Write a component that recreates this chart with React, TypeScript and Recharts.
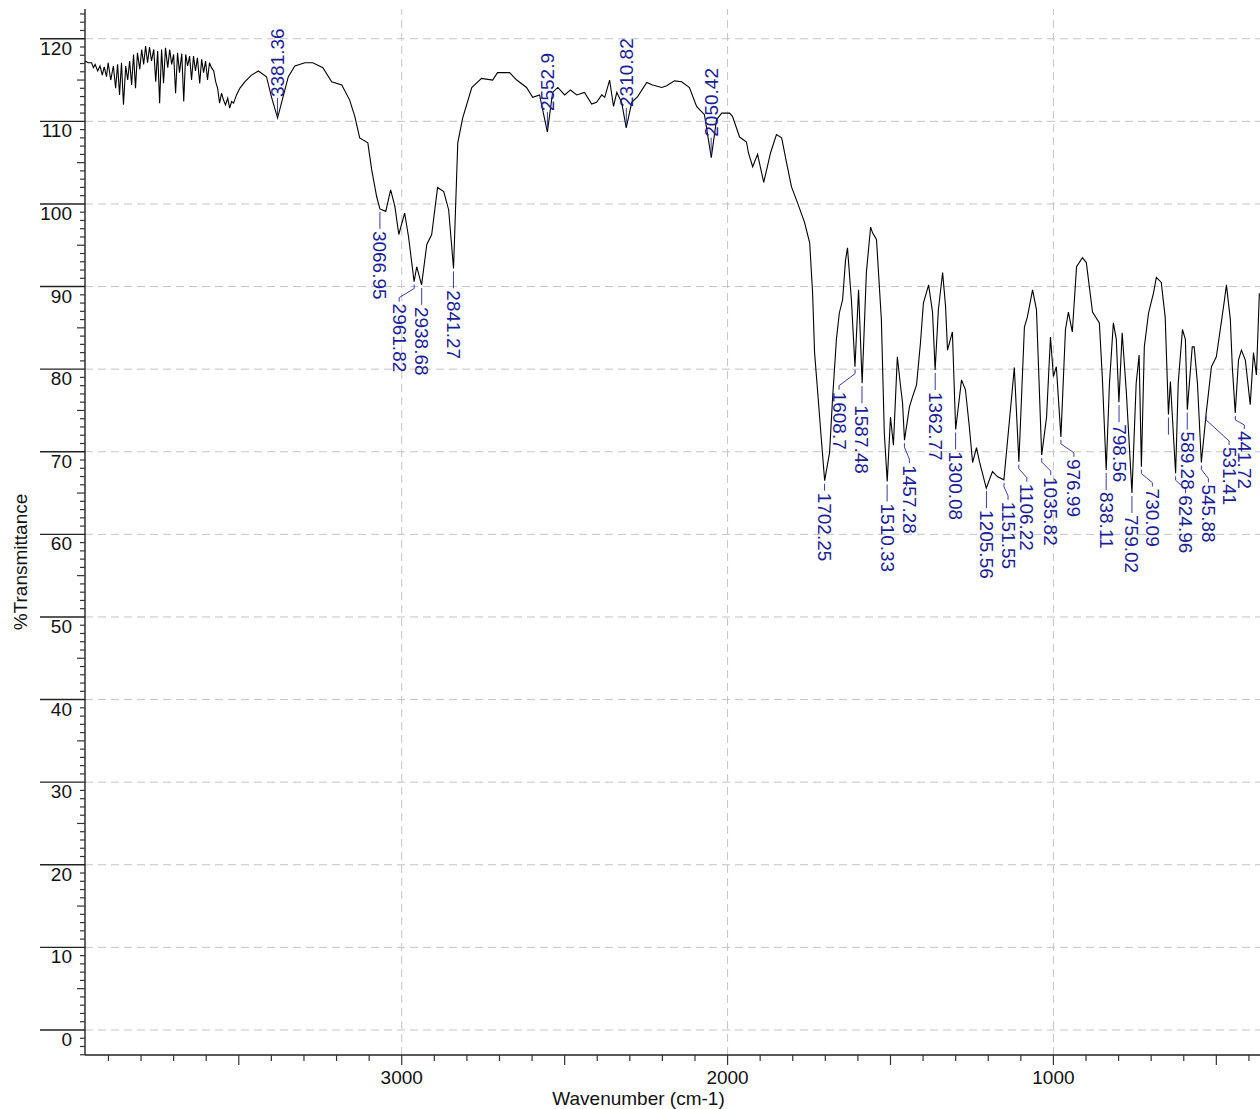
import { ComposedChart, Line, Scatter, XAxis, YAxis, ReferenceLine, Label } from "recharts";

// wavenumber (cm-1) and %T, high to low wavenumber
const wavenumbers = [
	3972, 3962, 3952, 3946, 3941, 3933, 3926, 3919, 3913, 3906, 3901, 3893, 3885, 3878, 3872, 3866,
	3860, 3854, 3847, 3841, 3835, 3829, 3823, 3817, 3811, 3804, 3798, 3792, 3786, 3780, 3774, 3768,
	3761, 3755, 3749, 3743, 3737, 3731, 3725, 3718, 3712, 3706, 3700, 3694, 3688, 3682, 3675, 3669,
	3663, 3657, 3651, 3645, 3639, 3633, 3627, 3620, 3614, 3608, 3602, 3596, 3590, 3584, 3577, 3571,
	3565, 3559, 3553, 3547, 3541, 3534, 3528, 3522, 3516, 3507, 3497, 3481, 3461, 3440, 3415, 3400,
	3381, 3364, 3348, 3328, 3297, 3273, 3242, 3215, 3184, 3160, 3144, 3129, 3104, 3092, 3077, 3067,
	3049, 3034, 3021, 3009, 2991, 2979, 2962, 2954, 2939, 2923, 2908, 2890, 2871, 2856, 2841, 2828,
	2813, 2785, 2755, 2721, 2706, 2669, 2647, 2617, 2598, 2577, 2553, 2537, 2521, 2500, 2482, 2463,
	2439, 2417, 2402, 2386, 2377, 2362, 2350, 2340, 2325, 2311, 2294, 2276, 2248, 2230, 2202, 2187,
	2163, 2141, 2117, 2095, 2071, 2050, 2034, 2018, 1994, 1985, 1963, 1942, 1936, 1923, 1908, 1889,
	1868, 1850, 1834, 1819, 1804, 1785, 1764, 1748, 1739, 1733, 1724, 1712, 1702, 1687, 1678, 1666,
	1657, 1647, 1638, 1632, 1620, 1609, 1598, 1587, 1574, 1561, 1555, 1543, 1528, 1519, 1510, 1500,
	1491, 1479, 1469, 1463, 1457, 1442, 1432, 1420, 1408, 1399, 1383, 1371, 1363, 1353, 1340, 1331,
	1325, 1310, 1300, 1282, 1270, 1258, 1248, 1236, 1227, 1206, 1187, 1172, 1152, 1129, 1120, 1106,
	1089, 1080, 1064, 1052, 1036, 1021, 1009, 1000, 991, 977, 963, 954, 942, 929, 911, 899,
	880, 859, 850, 838, 828, 816, 807, 799, 789, 776, 759, 746, 737, 730, 721, 708,
	693, 684, 669, 657, 647, 641, 625, 617, 604, 595, 589, 574, 568, 558, 546, 531,
	515, 500, 485, 475, 469, 457, 451, 442, 432, 423, 411, 396, 386, 377, 368,
];

const transmittance = [
	117.3, 117.1, 117.1, 116.5, 116.9, 116.1, 116.7, 115.6, 116.6, 115.4, 117.1, 115.0, 116.7, 114.0, 116.9, 113.2,
	117.1, 112.0, 116.7, 115.0, 117.3, 114.4, 118.1, 114.0, 118.3, 116.3, 118.7, 116.9, 119.1, 117.1, 119.0, 117.3,
	118.7, 114.8, 118.5, 112.2, 118.7, 114.6, 118.9, 116.5, 118.7, 116.9, 118.1, 113.4, 118.3, 115.9, 118.2, 112.4,
	118.1, 116.7, 117.9, 115.0, 117.9, 116.1, 117.7, 114.6, 117.5, 115.9, 117.3, 115.0, 117.1, 116.5, 116.1, 114.8,
	114.0, 112.2, 113.4, 112.6, 112.0, 112.8, 111.6, 112.4, 112.2, 113.2, 114.0, 114.8, 115.6, 116.1, 115.4, 113.0,
	110.4, 113.0, 115.4, 116.7, 117.1, 117.1, 116.5, 114.8, 114.4, 112.6, 110.6, 108.0, 107.4, 104.1, 100.9, 99.4,
	99.1, 101.7, 99.7, 96.3, 98.9, 96.0, 90.6, 92.4, 90.2, 95.1, 96.3, 102.0, 101.5, 99.3, 92.2, 107.4,
	110.4, 114.1, 115.2, 115.0, 115.9, 115.9, 115.0, 114.1, 112.9, 113.2, 108.7, 113.5, 114.1, 113.2, 113.8, 113.2,
	113.5, 112.1, 112.3, 113.2, 112.9, 115.0, 111.8, 113.5, 112.3, 109.2, 112.3, 113.0, 114.7, 114.4, 114.1, 114.3,
	114.9, 114.8, 114.1, 111.8, 110.8, 105.6, 110.2, 111.0, 111.0, 110.6, 108.1, 107.5, 106.2, 104.5, 106.0, 102.6,
	106.2, 108.4, 108.0, 105.0, 102.1, 100.1, 97.8, 95.3, 89.2, 82.0, 77.5, 71.4, 66.5, 69.9, 76.3, 83.6,
	86.8, 88.4, 93.2, 94.7, 88.4, 80.3, 89.6, 78.3, 91.7, 97.2, 96.5, 95.7, 86.0, 72.3, 66.4, 74.2,
	70.8, 81.5, 77.9, 75.9, 71.4, 75.4, 76.7, 78.1, 83.2, 88.0, 90.2, 86.9, 79.9, 87.2, 91.7, 87.6,
	82.3, 84.5, 72.7, 78.7, 77.5, 73.0, 68.7, 70.5, 68.8, 65.6, 67.6, 67.0, 66.6, 76.3, 80.2, 68.8,
	85.1, 86.3, 89.6, 87.2, 69.6, 74.2, 83.9, 79.1, 80.3, 71.8, 84.8, 86.9, 84.5, 92.4, 93.5, 92.9,
	86.9, 85.6, 79.1, 67.8, 78.3, 85.6, 83.6, 76.0, 84.4, 77.1, 65.0, 78.3, 81.7, 68.2, 82.7, 86.8,
	89.2, 91.1, 90.5, 86.3, 74.5, 78.5, 67.4, 78.3, 84.8, 83.6, 75.1, 82.7, 82.7, 78.3, 68.7, 74.7,
	80.3, 81.5, 85.6, 88.4, 90.2, 86.0, 80.3, 74.7, 81.1, 82.3, 81.1, 75.7, 82.0, 79.3, 89.2,
];

// peak picks: label text, position of the peak, label above or below the curve
const peakLabels = [
	"3381.36", "2552.9", "2310.82", "2050.42",
	"3066.95", "2961.82", "2938.68", "2841.27", "1702.25", "1608.7", "1587.48", "1510.33",
	"1457.28", "1362.77", "1300.08", "1205.56", "1151.55", "1106.22", "1035.82", "976.99",
	"838.11", "798.56", "759.02", "730.09", "", "624.96", "589.28", "545.88", "531.41", "441.72",
];
const peakWavenumbers = [
	3381.36, 2552.9, 2310.82, 2050.42,
	3066.95, 2961.82, 2938.68, 2841.27, 1702.25, 1608.7, 1587.48, 1510.33,
	1457.28, 1362.77, 1300.08, 1205.56, 1151.55, 1106.22, 1035.82, 976.99,
	838.11, 798.56, 759.02, 730.09, 647, 624.96, 589.28, 545.88, 531.41, 441.72,
];
const peakTransmittance = [
	110.4, 108.7, 109.2, 105.6,
	99.4, 90.6, 90.2, 92.2, 66.5, 80.3, 78.3, 66.4,
	71.4, 79.9, 72.7, 65.6, 66.6, 68.8, 69.6, 71.8,
	67.8, 76.0, 65.0, 68.2, 74.5, 67.4, 75.1, 68.7, 74.7, 74.7,
];
const peakAbove = [true, true, true, true];

const yMajorTicks = [0, 10, 20, 30, 40, 50, 60, 70, 80, 90, 100, 110, 120];
const xMajorTicks = [1000, 2000, 3000];

// label nudges (px) so neighbouring picks do not collide
const labelShift: Record<string, { dx?: number; dy?: number }> = {
	"2961.82": { dx: -15 },
	"1608.7": { dx: -16, dy: 3 },
	"1457.28": { dx: 5, dy: 3 },
	"1702.25": { dy: -10 },
	"1151.55": { dx: 4 },
	"1106.22": { dx: 8 },
	"1035.82": { dx: 9 },
	"976.99": { dx: 13 },
	"730.09": { dx: 11 },
	"624.96": { dx: 10 },
	"545.88": { dx: 7 },
	"531.41": { dx: 23, dy: 12 },
	"441.72": { dx: 9, dy: -4 },
};

const spectrum = wavenumbers.map((wn, i) => ({ wn, t: transmittance[i] }));
const peaks = peakLabels.map((label, i) => ({
	wn: peakWavenumbers[i],
	t: peakTransmittance[i],
	label,
	above: peakAbove[i] ?? false,
}));

const yTicks: number[] = [];
for (let v = -3; v <= 123; v++) yTicks.push(v);
const xTicks: number[] = [];
for (let v = 400; v <= 3900; v += 100) xTicks.push(v);

const FONT = "'Liberation Sans', Arial, Helvetica, sans-serif";
const FS = 19;
const LABEL_BLUE = "#1c1c94";
const LEADER_BLUE = "#3a3aa4";
const GRID = "#c4c4c4";

function XTick(props: any) {
	const { x, y, payload } = props;
	const v = payload.value as number;
	const len = v % 500 === 0 ? 10 : 6;
	return (
		<g>
			<line x1={x} y1={y} x2={x} y2={y + len} stroke="#333" strokeWidth={1.2} />
			{xMajorTicks.includes(v) && (
				<text x={x} y={y + 29} textAnchor="middle" fontSize={FS} fill="#111" fontFamily={FONT}>
					{v}
				</text>
			)}
		</g>
	);
}

function YTick(props: any) {
	const { x, y, payload } = props;
	const v = payload.value as number;
	if (yMajorTicks.includes(v)) {
		return (
			<g>
				<line x1={x - 45} y1={y} x2={x} y2={y} stroke="#222" strokeWidth={1.4} />
				<text x={x - 13} y={y + 16} textAnchor="end" fontSize={FS} fill="#111" fontFamily={FONT}>
					{v}
				</text>
			</g>
		);
	}
	const len = v % 5 === 0 ? 8 : 5;
	return <line x1={x - len} y1={y} x2={x} y2={y} stroke="#333" strokeWidth={1.2} />;
}

function PeakMark(props: any) {
	const { cx, cy, payload } = props;
	if (cx == null || cy == null) return null;
	const { label, above } = payload;
	const shift = labelShift[label] ?? {};
	const dx = shift.dx ?? 0;
	const dy = shift.dy ?? 0;

	if (above) {
		const end = cy - 20;
		return (
			<g>
				<line x1={cx} y1={cy - 3} x2={cx} y2={end} stroke={LEADER_BLUE} strokeWidth={1} />
				<text
					x={cx}
					y={end - 1}
					transform={`rotate(-90 ${cx} ${end - 1})`}
					textAnchor="start"
					dominantBaseline="central"
					fontSize={FS}
					fill={LABEL_BLUE}
					fontFamily={FONT}
				>
					{label}
				</text>
			</g>
		);
	}

	const top = cy + 3;
	const end = cy + 20 + dy;
	const tx = cx + dx;
	const pts =
		dx === 0
			? `${cx},${top} ${cx},${end}`
			: `${cx},${top} ${cx},${top + 4} ${tx},${end - 4} ${tx},${end}`;
	return (
		<g>
			<polyline points={pts} fill="none" stroke={LEADER_BLUE} strokeWidth={1} />
			{label && (
				<text
					x={tx}
					y={end + 2}
					transform={`rotate(90 ${tx} ${end + 2})`}
					textAnchor="start"
					dominantBaseline="central"
					fontSize={FS}
					fill={LABEL_BLUE}
					fontFamily={FONT}
				>
					{label}
				</text>
			)}
		</g>
	);
}

export default function App() {
	return (
		<div
			style={{
				position: "absolute",
				left: 0,
				top: 0,
				width: 1260,
				height: 1109,
				overflow: "hidden",
				background: "#fff",
			}}
		>
			<ComposedChart
				width={1260}
				height={1109}
				data={spectrum}
				margin={{ top: 9, right: 0, bottom: 0, left: 0 }}
				style={{ fontFamily: FONT }}
			>
				{yMajorTicks.map((v) => (
					<ReferenceLine key={`h${v}`} y={v} stroke={GRID} strokeDasharray="8 5" />
				))}
				{xMajorTicks.map((v) => (
					<ReferenceLine key={`v${v}`} x={v} stroke={GRID} strokeDasharray="8 5" />
				))}

				<XAxis
					dataKey="wn"
					type="number"
					domain={[366, 3972]}
					reversed
					allowDataOverflow
					ticks={xTicks}
					interval={0}
					height={54}
					tickSize={0}
					tickMargin={0}
					tickLine={false}
					axisLine={{ stroke: "#222", strokeWidth: 1.4 }}
					tick={<XTick />}
				>
					<Label
						content={(p: any) => {
							const vb = p.viewBox ?? { x: 85, y: 1055, width: 1175 };
							return (
								<text
									x={vb.x + vb.width / 2 - 34}
									y={vb.y + 50}
									textAnchor="middle"
									fontSize={FS}
									fill="#111"
									fontFamily={FONT}
								>
									Wavenumber (cm-1)
								</text>
							);
						}}
					/>
				</XAxis>

				<YAxis
					type="number"
					domain={[-3.03, 123.6]}
					allowDataOverflow
					ticks={yTicks}
					interval={0}
					width={85}
					tickSize={0}
					tickMargin={0}
					tickLine={false}
					axisLine={{ stroke: "#222", strokeWidth: 1.4 }}
					tick={<YTick />}
				>
					<Label
						content={(p: any) => {
							const vb = p.viewBox ?? { x: 0, y: 9, width: 85, height: 1046 };
							const cx = vb.x + 20;
							const cy = vb.y + vb.height / 2 + 30;
							return (
								<text
									x={cx}
									y={cy}
									transform={`rotate(-90 ${cx} ${cy})`}
									textAnchor="middle"
									dominantBaseline="central"
									fontSize={FS}
									fill="#111"
									fontFamily={FONT}
								>
									%Transmittance
								</text>
							);
						}}
					/>
				</YAxis>

				<Line
					type="linear"
					dataKey="t"
					stroke="#000"
					strokeWidth={1.1}
					dot={false}
					activeDot={false}
					isAnimationActive={false}
				/>
				<Scatter
					data={peaks}
					dataKey="t"
					shape={(p: any) => <PeakMark {...p} />}
					isAnimationActive={false}
				/>
			</ComposedChart>
		</div>
	);
}
